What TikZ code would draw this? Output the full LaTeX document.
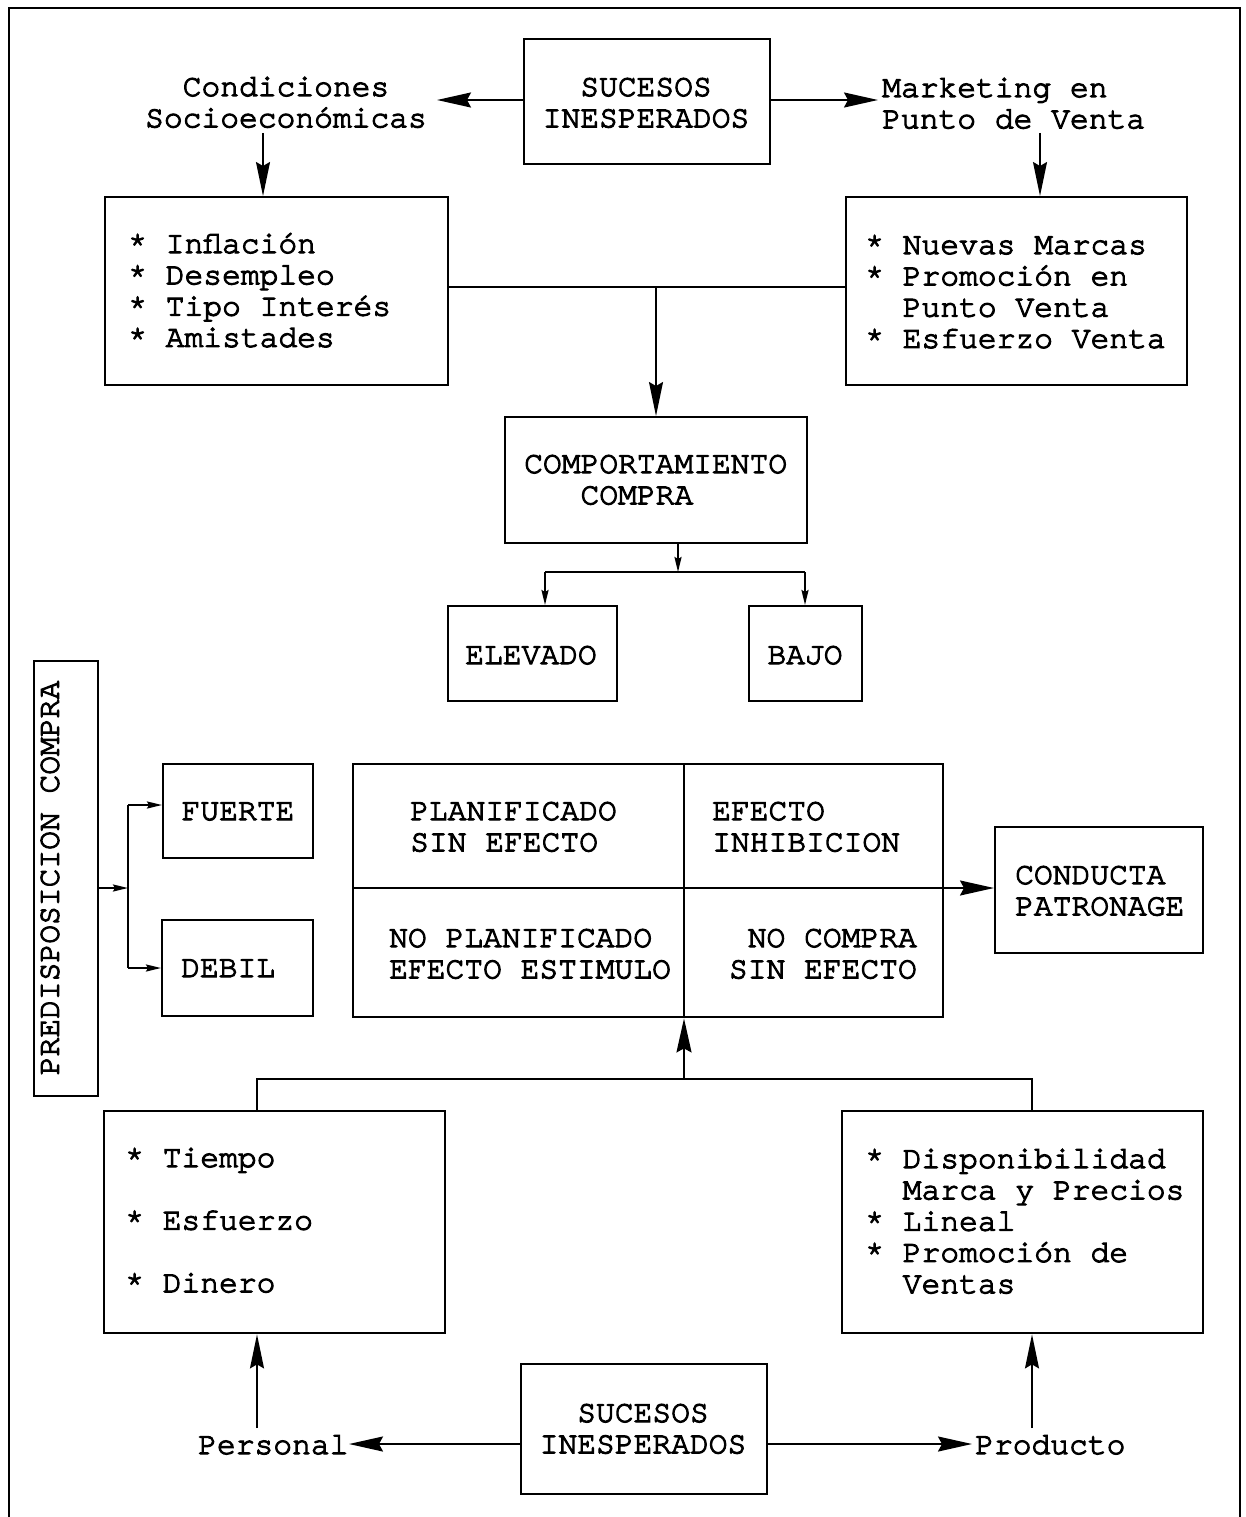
\documentclass[tikz,border=0pt]{standalone}
\usepackage{fontspec}
\newfontfamily\courbase{texgyrecursor-regular.otf}[FakeBold=3.5]
\newcommand{\cour}{\courbase\fontsize{31.3}{31.3}\selectfont}
\usetikzlibrary{arrows.meta}
\begin{document}
\frenchspacing
\begin{tikzpicture}[x=1pt,y=-1pt,
  box/.style={draw, line width=2.4pt, inner sep=0pt, anchor=north west},
  txt/.style={inner sep=0pt, font=\cour, text width=#1, execute at begin node={\spaceskip=18.78pt\xspaceskip=18.78pt\relax}},
  txt/.default=400pt,
  conn/.style={line width=2pt},
  big/.style={line width=2pt, -{Stealth[length=34pt,width=15pt,inset=4pt]}},
  bigthin/.style={line width=1.6pt, -{Stealth[length=34pt,width=14pt,inset=4pt]}},
  small/.style={line width=2pt, -{Stealth[length=15pt,width=7pt,inset=2pt]}}]
\useasboundingbox (0,0) rectangle (1245,1517);
\newcommand{\mybox}[5]{\node[box, minimum width={#4pt-#2pt}, minimum height={#5pt-#3pt}] (#1) at (#2,#3) {};}
% frame
\draw[line width=2pt] (9,1517) -- (9,8) -- (1240,8) -- (1240,1517);
% boxes
\mybox{topS}{523}{38}{769}{163}
\mybox{lbA}{104}{196}{447}{384}
\mybox{rbA}{845}{196}{1186}{384}
\mybox{comp}{504}{416}{806}{542}
\mybox{elev}{447}{605}{616}{700}
\mybox{bajo}{748}{605}{861}{700}
\mybox{pred}{33}{660}{97}{1095}
\mybox{fuer}{162}{763}{312}{857}
\mybox{debil}{161}{919}{312}{1015}
\mybox{grid}{352}{763}{942}{1016}
\mybox{cond}{994}{826}{1202}{952}
\mybox{lbB}{103}{1110}{444}{1332}
\mybox{rbB}{841}{1110}{1202}{1332}
\mybox{botS}{520}{1363}{766}{1493}
% grid dividers
\draw[line width=2.4pt] (grid.north -| 684,0) -- (grid.south -| 684,0);
% texts
\node[txt=240pt, align=center, anchor=base] (tSucA) at (646,96) {SUCESOS\\INESPERADOS};
\node[txt=300pt, align=center, anchor=base] (tCond) at (286,96) {Condiciones\\Socioeconómicas};
\node[txt, align=left, anchor=base west] (tMark) at (882,97) {Marketing en\\Punto de Venta};
\node[txt, align=left, anchor=base west] (tLA) at (128,253) {* Inflación\\{}* Desempleo\\{}* Tipo Interés\\{}* Amistades};
\node[txt, align=left, anchor=base west] (tRA) at (865,254) {* Nuevas Marcas\\{}* Promoción en\\\phantom{*}\ Punto Venta\\{}* Esfuerzo Venta};
\node[txt, align=left, anchor=base west] (tComp) at (524,473) {COMPORTAMIENTO\\\phantom{XXX}COMPRA};
\node[txt=200pt, align=center, anchor=base] (tElev) at (531,664) {ELEVADO};
\node[txt=200pt, align=center, anchor=base] (tBajo) at (805,664) {BAJO};
\node[inner sep=0pt, font=\cour, rotate=90, anchor=center] (tPred) at (50,878) {PREDISPOSICION COMPRA};
\node[txt=200pt, align=center, anchor=base] (tFuer) at (238,820) {FUERTE};
\node[txt, align=left, anchor=base west] (tDeb) at (181,977) {DEBIL};
\node[txt, align=left, anchor=base west] (tG1) at (410,820) {PLANIFICADO\\SIN EFECTO};
\node[txt, align=left, anchor=base west] (tG2) at (712,820) {EFECTO\\INHIBICION};
\node[txt, align=left, anchor=base west] (tG3) at (389,947) {NO PLANIFICADO\\EFECTO ESTIMULO};
\node[txt, align=right, anchor=base east] (tG4) at (917,947) {NO COMPRA\\SIN EFECTO};
\node[txt, align=left, anchor=base west] (tCond2) at (1015,884) {CONDUCTA\\PATRONAGE};
\node[txt, align=left, anchor=base west] (tLB) at (125,1167) {* Tiempo\\[31.3pt]* Esfuerzo\\[31.3pt]* Dinero};
\node[txt, align=left, anchor=base west] (tRB) at (865,1168) {* Disponibilidad\\\phantom{*}\ Marca y Precios\\{}* Lineal\\{}* Promoción de\\\phantom{*}\ Ventas};
\node[txt=240pt, align=center, anchor=base] (tSucB) at (643,1422) {SUCESOS\\INESPERADOS};
\node[txt, align=left, anchor=base west] (tPers) at (198,1454) {Personal};
\node[txt, align=left, anchor=base west] (tProd) at (975,1454) {Producto};
% coordinates
\coordinate (condTip) at (437,100);
\coordinate (markTip) at (878,100);
\coordinate (condDown) at (263,133);
\coordinate (markDown) at (1040,133);
\coordinate (jA) at (656,287);
\coordinate (jB) at (678,572);
\coordinate (jBl) at (545,572);
\coordinate (jBr) at (805,572);
\coordinate (jC) at (128,888);
\coordinate (jCt) at (128,805);
\coordinate (jCb) at (128,968);
\coordinate (jD) at (684,1079);
\coordinate (jDl) at (257,1079);
\coordinate (jDr) at (1032,1079);
\coordinate (persTip) at (349,1444);
\coordinate (prodTip) at (972,1444);
\coordinate (persUp) at (257,1428);
\coordinate (prodUp) at (1032,1428);
% connectors top
\draw[big] (topS.west |- condTip) -- (condTip);
\draw[big] (topS.east |- markTip) -- (markTip);
\draw[bigthin] (condDown) -- (condDown |- lbA.north);
\draw[bigthin] (markDown) -- (markDown |- rbA.north);
\draw[conn] (lbA.east |- jA) -- (rbA.west |- jA);
\draw[bigthin] (jA) -- (jA |- comp.north);
\draw[small] (jB |- comp.south) -- (jB);
\draw[conn] (jBl) -- (jBr);
\draw[small] (jBl) -- (jBl |- elev.north);
\draw[small] (jBr) -- (jBr |- bajo.north);
% predisposicion
\draw[small] (pred.east |- jC) -- (jC);
\draw[conn] (jCt) -- (jCb);
\draw[small] (jCt) -- (jCt -| fuer.west);
\draw[small] (jCb) -- (jCb -| debil.west);
% grid horizontal + arrow to conducta
\draw[line width=2.4pt] (grid.west |- 0,888) -- (grid.east |- 0,888);
\draw[big] (grid.east |- 0,888) -- (cond.west |- 0,888);
% bottom
\draw[conn] (jDl |- lbB.north) -- (jDl) -- (jDr) -- (jDr |- rbB.north);
\draw[big] (jD) -- (jD |- grid.south);
\draw[big] (botS.west |- persTip) -- (persTip);
\draw[big] (botS.east |- prodTip) -- (prodTip);
\draw[bigthin] (persUp) -- (persUp |- lbB.south);
\draw[bigthin] (prodUp) -- (prodUp |- rbB.south);
\end{tikzpicture}
\end{document}
